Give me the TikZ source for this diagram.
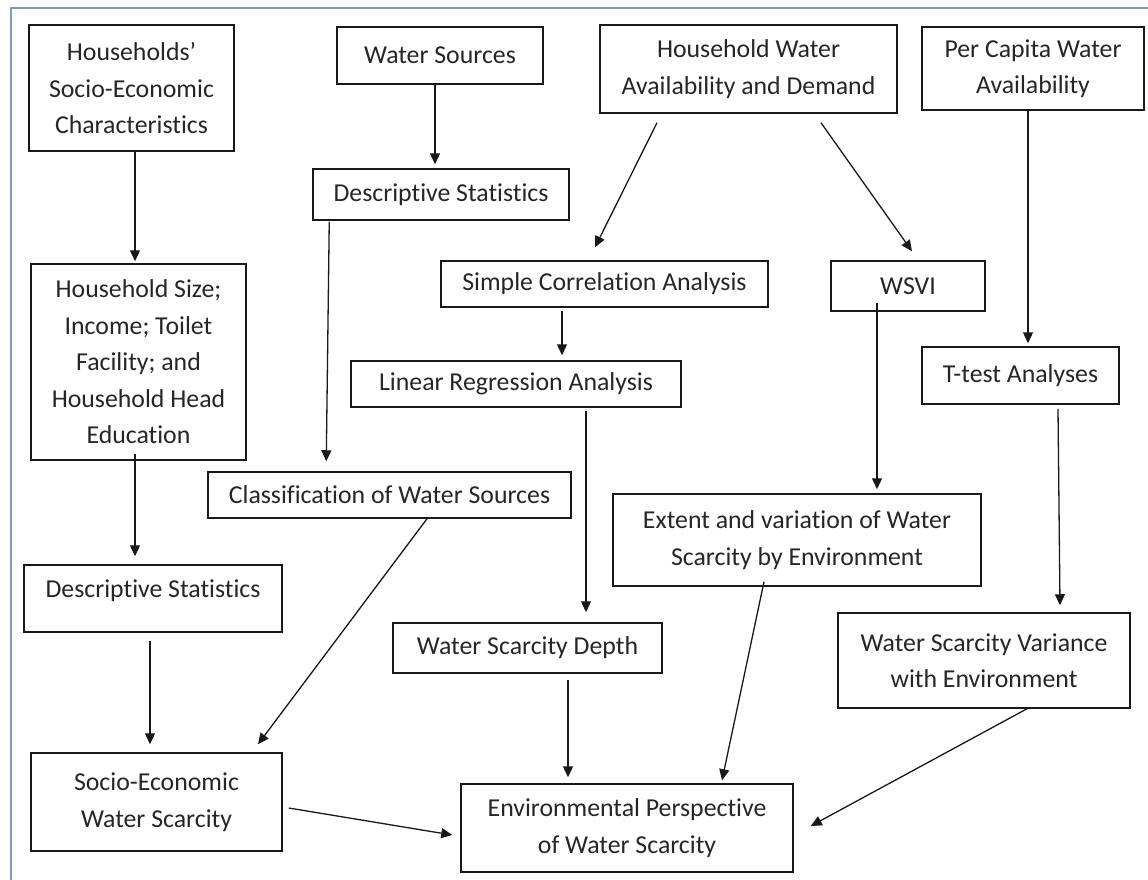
\documentclass[tikz,border=0pt]{standalone}
\usepackage{fontspec}
\setmainfont[Ligatures=CommonOff]{Carlito}
\usetikzlibrary{arrows.meta}
\definecolor{frameblue}{RGB}{120,155,200}
\newcommand\mybox[6]{\node[box,minimum width={(#4-#2)*1pt},minimum height={(#5-#3)*1pt}] (#1) at ({(#2+#4)/2},{(#3+#5)/2}) {#6};}
\begin{document}
\begin{tikzpicture}[x=1pt,y=-1pt,
  box/.style={draw=black!90, line width=1.5pt, inner sep=0pt, align=center, text=black!85, font=\fontsize{25.8}{36.5}\selectfont},
  arr/.style={draw=black!90, line width=1.3pt, -{Triangle[length=11pt,width=10pt]}},
  frameline/.style={draw=frameblue, line width=2pt}]
\useasboundingbox[fill=white] (0,0) rectangle (1148,880);
\draw[frameline] (10.5,880) -- (10.5,8.5) -- (1148,8.5);

\mybox{hsec}{29}{25}{234}{151}{Households’\\Socio-Economic\\Characteristics}
\mybox{ws}{337}{27}{543}{84}{Water Sources}
\mybox{hwad}{600}{25}{897}{113}{Household Water\\Availability and Demand}
\mybox{pcwa}{922}{27}{1144}{110}{Per Capita Water\\Availability}
\mybox{dsm}{313}{169}{569}{220}{Descriptive Statistics}
\mybox{hs}{31}{264}{246}{460}{Household Size;\\Income; Toilet\\Facility; and\\Household Head\\Education}
\mybox{sca}{441}{261}{768}{307}{Simple Correlation Analysis}
\mybox{wsvi}{831}{261}{985}{311}{WSVI}
\mybox{lra}{351}{361}{681}{407}{Linear Regression Analysis}
\mybox{tt}{922}{347}{1119}{404}{T-test Analyses}
\mybox{cls}{208}{472}{571}{518}{Classification of Water Sources}
\mybox{ext}{613}{494}{981}{586}{Extent and variation of Water\\Scarcity by Environment}
\mybox{dsl}{24}{565}{282}{632}{\raisebox{8pt}[\height][\depth]{Descriptive Statistics}}
\mybox{wsd}{393}{623}{662}{673}{Water Scarcity Depth}
\mybox{wsve}{838}{613}{1130}{708}{Water Scarcity Variance\\with Environment}
\mybox{sews}{31}{753}{282}{851}{Socio-Economic\\Water Scarcity}
\mybox{epws}{461}{784}{793}{872}{Environmental Perspective\\of Water Scarcity}

\draw[arr] ([xshift=3.5pt]hsec.south) -- ([xshift=-3.5pt,yshift=2pt]hs.north);
\draw[arr] ([xshift=-5pt]ws.south) -- ([xshift=-6pt,yshift=4pt]dsm.north);
\draw[arr] ([xshift=-91.5pt,yshift=-9pt]hwad.south) -- ([xshift=-9.5pt,yshift=13pt]sca.north);
\draw[arr] ([xshift=72.5pt,yshift=-9pt]hwad.south) -- ([xshift=4pt,yshift=9pt]wsvi.north);
\draw[arr] ([xshift=-5pt]pcwa.south) -- ([xshift=7.5pt,yshift=3pt]tt.north);
\draw[arr] ([xshift=17pt,yshift=-1pt]dsm.south west) -- ([xshift=119pt,yshift=10pt]cls.north west);
\draw[arr] ([xshift=-42.5pt,yshift=-3pt]sca.south) -- ([xshift=46pt,yshift=5pt]lra.north);
\draw[arr] ([xshift=-31pt,yshift=9pt]wsvi.south) -- ([xshift=80pt,yshift=4pt]ext.north);
\draw[arr] ([xshift=70pt,yshift=-3pt]lra.south) -- ([xshift=58.5pt,yshift=10pt]wsd.north);
\draw[arr] ([xshift=37.5pt,yshift=-4pt]tt.south) -- ([xshift=76pt,yshift=7pt]wsve.north);
\draw[arr] ([xshift=-3.5pt,yshift=7pt]hs.south) -- ([xshift=-18pt,yshift=8pt]dsl.north);
\draw[arr] ([xshift=37.5pt]cls.south) -- ([xshift=101.5pt,yshift=8pt]sews.north);
\draw[arr] ([xshift=-3pt,yshift=-8pt]dsl.south) -- ([xshift=-6.5pt,yshift=8pt]sews.north);
\draw[arr] ([xshift=6pt,yshift=-6pt]sews.east) -- ([xshift=-8pt,yshift=-7pt]epws.west);
\draw[arr] ([xshift=40.5pt,yshift=-6pt]wsd.south) -- ([xshift=-59pt,yshift=6pt]epws.north);
\draw[arr] ([xshift=-33pt,yshift=5pt]ext.south) -- ([xshift=95pt,yshift=3pt]epws.north);
\draw[arr] ([xshift=43pt]wsve.south) -- ([xshift=17pt,yshift=2pt]epws.east);
\end{tikzpicture}
\end{document}
